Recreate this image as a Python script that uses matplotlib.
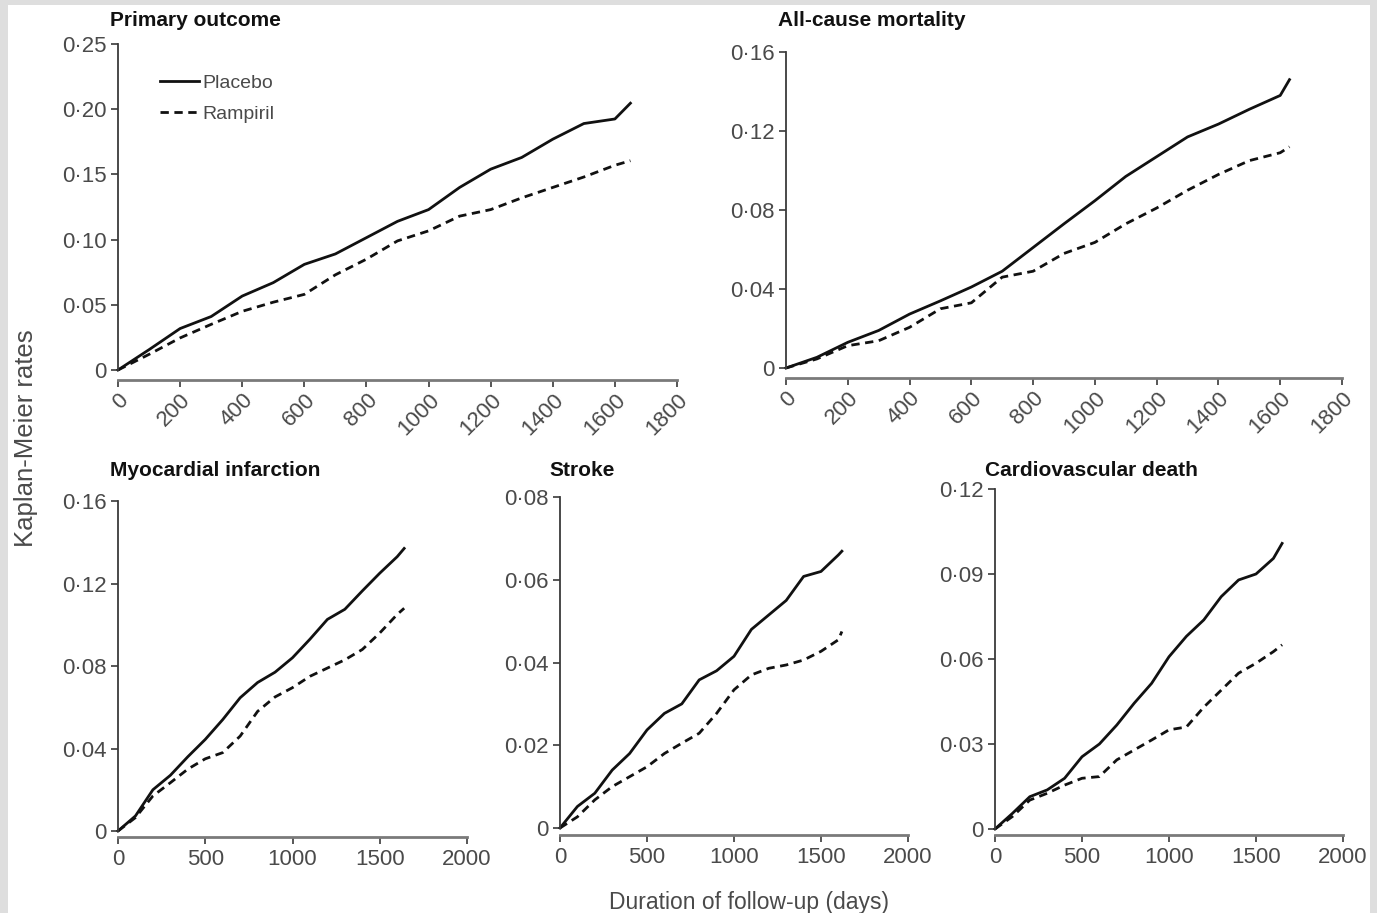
import matplotlib
matplotlib.use("Agg")
import matplotlib.pyplot as plt
from matplotlib import font_manager
from matplotlib.patches import Rectangle

# ---------------- data ----------------
days_primary = [0, 100, 200, 300, 400, 500, 600, 700, 800, 900, 1000, 1100, 1200, 1300, 1400, 1500, 1600, 1650]
placebo_primary = [0, 0.0156, 0.0318, 0.041, 0.0567, 0.067, 0.081, 0.089, 0.1015, 0.114, 0.123, 0.140, 0.154, 0.163, 0.177, 0.189, 0.1925, 0.2046]
ramipril_primary = [0, 0.012, 0.0246, 0.035, 0.045, 0.052, 0.058, 0.073, 0.085, 0.099, 0.1067, 0.118, 0.123, 0.132, 0.140, 0.148, 0.157, 0.1605]

days_mortality = [0, 100, 200, 300, 400, 500, 600, 700, 800, 900, 1000, 1100, 1200, 1300, 1400, 1500, 1600, 1630]
placebo_mortality = [0, 0.0054, 0.013, 0.019, 0.0273, 0.034, 0.041, 0.049, 0.061, 0.073, 0.0847, 0.097, 0.107, 0.117, 0.1235, 0.131, 0.138, 0.146]
ramipril_mortality = [0, 0.0046, 0.0113, 0.0138, 0.0206, 0.030, 0.033, 0.046, 0.049, 0.058, 0.0636, 0.073, 0.081, 0.090, 0.098, 0.105, 0.109, 0.112]

days_mi = [0, 100, 200, 300, 400, 500, 600, 700, 800, 900, 1000, 1100, 1200, 1300, 1400, 1500, 1600, 1640]
placebo_mi = [0, 0.0073, 0.020, 0.027, 0.036, 0.0444, 0.054, 0.0646, 0.072, 0.077, 0.084, 0.093, 0.1026, 0.1075, 0.1164, 0.125, 0.133, 0.137]
ramipril_mi = [0, 0.0065, 0.017, 0.0234, 0.030, 0.035, 0.038, 0.046, 0.058, 0.065, 0.0695, 0.075, 0.079, 0.083, 0.088, 0.096, 0.105, 0.108]

days_stroke = [0, 100, 200, 300, 400, 500, 600, 700, 800, 900, 1000, 1100, 1200, 1300, 1400, 1500, 1600, 1620]
placebo_stroke = [0, 0.0052, 0.0084, 0.014, 0.018, 0.0237, 0.0277, 0.030, 0.0358, 0.038, 0.0415, 0.048, 0.0515, 0.055, 0.0608, 0.062, 0.066, 0.0669]
ramipril_stroke = [0, 0.0027, 0.0068, 0.010, 0.0124, 0.0148, 0.018, 0.0205, 0.0229, 0.0277, 0.0334, 0.037, 0.0386, 0.0394, 0.0406, 0.0427, 0.0455, 0.0475]

days_cv = [0, 100, 200, 300, 400, 500, 600, 700, 800, 900, 1000, 1100, 1200, 1300, 1400, 1500, 1600, 1650]
placebo_cv = [0, 0.0055, 0.0114, 0.0138, 0.0179, 0.0255, 0.030, 0.0367, 0.0444, 0.0514, 0.0608, 0.068, 0.0738, 0.082, 0.0879, 0.090, 0.0955, 0.1008]
ramipril_cv = [0, 0.0044, 0.0102, 0.0126, 0.0155, 0.0179, 0.0185, 0.0244, 0.0279, 0.0314, 0.035, 0.036, 0.043, 0.049, 0.055, 0.0585, 0.0626, 0.065]

titles = ["Primary outcome", "All-cause mortality", "Myocardial infarction", "Stroke", "Cardiovascular death"]
series_labels = ["Placebo", "Rampiril"]

xticks_top = [0, 200, 400, 600, 800, 1000, 1200, 1400, 1600, 1800]
xticks_bottom = [0, 500, 1000, 1500, 2000]

yticks_primary = [0, 0.05, 0.10, 0.15, 0.20, 0.25]
ylabels_primary = ["0", "0·05", "0·10", "0·15", "0·20", "0·25"]
yticks_mortality = [0, 0.04, 0.08, 0.12, 0.16]
ylabels_mortality = ["0", "0·04", "0·08", "0·12", "0·16"]
yticks_mi = [0, 0.04, 0.08, 0.12, 0.16]
ylabels_mi = ["0", "0·04", "0·08", "0·12", "0·16"]
yticks_stroke = [0, 0.02, 0.04, 0.06, 0.08]
ylabels_stroke = ["0", "0·02", "0·04", "0·06", "0·08"]
yticks_cv = [0, 0.03, 0.06, 0.09, 0.12]
ylabels_cv = ["0", "0·03", "0·06", "0·09", "0·12"]

# ---------------- fonts ----------------
names = {f.name for f in font_manager.fontManager.ttflist}
FONT = "Liberation Sans Narrow" if "Liberation Sans Narrow" in names else "Liberation Sans"
plt.rcParams['font.family'] = [FONT, 'DejaVu Sans']

W, H = 1377, 913
fig = plt.figure(figsize=(W / 100, H / 100), dpi=100, facecolor="#dedede")
bg = Rectangle((8 / W, 0), (1370 - 8) / W, 1 - 5 / H, transform=fig.transFigure,
               facecolor="white", edgecolor="none", zorder=-10)
fig.patches.append(bg)

GRAY = "#4a4a4a"
TICKSIZE = 16


def add_ax(x0, x1, ytop, ybot):
    ax = fig.add_axes([x0 / W, 1 - ybot / H, (x1 - x0) / W, (ybot - ytop) / H])
    ax.set_zorder(5)
    return ax


def style(ax, xlim, ylim, xt, yt, ytl, rotate, offset):
    ax.set_xlim(*xlim)
    ax.set_ylim(*ylim)
    for s in ["top", "right"]:
        ax.spines[s].set_visible(False)
    ax.patch.set_alpha(0)
    ax.spines["bottom"].set_position(("outward", offset))
    ax.spines["bottom"].set_color("#7a7a7a")
    ax.spines["bottom"].set_linewidth(2.0)
    ax.spines["left"].set_color("#3a3a3a")
    ax.spines["left"].set_linewidth(1.3)
    ax.set_xticks(xt)
    ax.set_yticks(yt)
    ax.set_yticklabels(ytl)
    ax.tick_params(axis="both", direction="out", length=5, width=1.2, colors="#3a3a3a",
                   labelcolor=GRAY, labelsize=TICKSIZE)
    ax.tick_params(axis="y", pad=3)
    if rotate:
        ax.tick_params(axis="x", pad=2)
        ax.set_xticklabels([str(v) for v in xt], rotation=45, ha="right", rotation_mode="anchor")
    else:
        ax.tick_params(axis="x", pad=4)
        ax.set_xticklabels([str(v) for v in xt])


def plot_pair(ax, d, p, r):
    ax.plot(d, p, color="#111111", lw=2.0, label=series_labels[0], clip_on=False)
    ax.plot(d, r, color="#111111", lw=2.0, linestyle=(0, (3, 2)), label=series_labels[1], clip_on=False)


# Panel A
axA = add_ax(118, 677, 44, 370)
plot_pair(axA, days_primary, placebo_primary, ramipril_primary)
style(axA, (0, 1800), (0, 0.25), xticks_top, yticks_primary, ylabels_primary, True, 7)
leg = axA.legend(loc="upper left", bbox_to_anchor=(160 / W, 1 - 74 / H), bbox_transform=fig.transFigure,
                 frameon=False, fontsize=14, handlelength=2.0, handletextpad=0.2, labelspacing=0.72,
                 borderpad=0, borderaxespad=0)
for t in leg.get_texts():
    t.set_color(GRAY)

# Panel B
axB = add_ax(786, 1342, 52, 368)
plot_pair(axB, days_mortality, placebo_mortality, ramipril_mortality)
style(axB, (0, 1800), (0, 0.16), xticks_top, yticks_mortality, ylabels_mortality, True, 7)

# Panel C
axC = add_ax(118, 467, 501, 831)
plot_pair(axC, days_mi, placebo_mi, ramipril_mi)
style(axC, (0, 2000), (0, 0.16), xticks_bottom, yticks_mi, ylabels_mi, False, 4)

# Panel D
axD = add_ax(560, 908, 497, 828)
plot_pair(axD, days_stroke, placebo_stroke, ramipril_stroke)
style(axD, (0, 2000), (0, 0.08), xticks_bottom, yticks_stroke, ylabels_stroke, False, 5)

# Panel E
axE = add_ax(995, 1343, 489, 829)
plot_pair(axE, days_cv, placebo_cv, ramipril_cv)
style(axE, (0, 2000), (0, 0.12), xticks_bottom, yticks_cv, ylabels_cv, False, 4)

# Titles
title_pos = [(110, 21), (778, 21), (110, 470), (549, 470), (985, 470)]
for (x, y), t in zip(title_pos, titles):
    fig.text(x / W, 1 - y / H, t, fontsize=15, fontweight="bold", color="#111111",
             ha="left", va="center", zorder=6)

fig.text(26 / W, 1 - 438 / H, "Kaplan-Meier rates", rotation=90, fontsize=18.5, color=GRAY,
         ha="center", va="center")
fig.text(749 / W, 1 - 902 / H, "Duration of follow-up (days)", fontsize=16.5, color=GRAY,
         ha="center", va="center")

fig.savefig("out.png", dpi=100, facecolor=fig.get_facecolor())
